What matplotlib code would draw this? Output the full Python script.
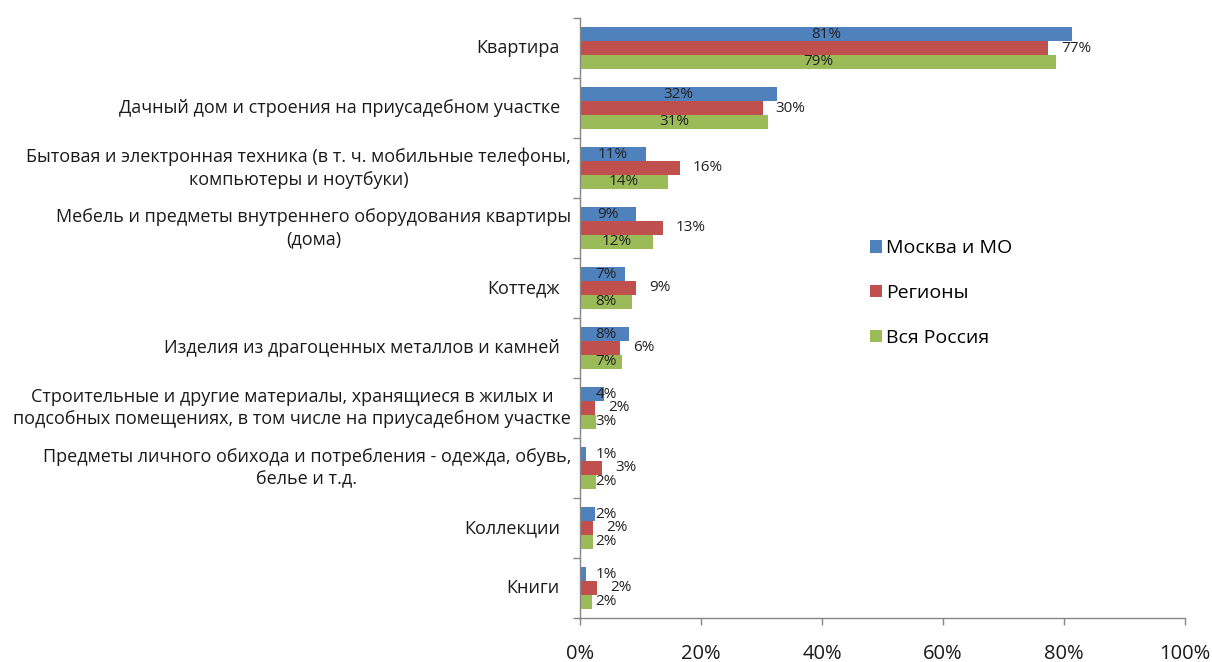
import matplotlib
matplotlib.use("Agg")
import matplotlib.pyplot as plt
from matplotlib.patches import Patch
import numpy as np

categories = [
    "Квартира",
    "Дачный дом и строения на приусадебном участке",
    "Бытовая и электронная техника (в т. ч. мобильные телефоны,\nкомпьютеры и ноутбуки)",
    "Мебель и предметы внутреннего оборудования квартиры\n(дома)",
    "Коттедж",
    "Изделия из драгоценных металлов и камней",
    "Строительные и другие материалы, хранящиеся в жилых и\nподсобных помещениях, в том числе на приусадебном участке",
    "Предметы личного обихода и потребления - одежда, обувь,\nбелье и т.д.",
    "Коллекции",
    "Книги",
]
series_names = ["Москва и МО", "Регионы", "Вся Россия"]
moscow = [81.3, 32.6, 10.9, 9.3, 7.4, 8.1, 4.0, 1.0, 2.5, 1.0]
regions = [77.4, 30.2, 16.5, 13.7, 9.3, 6.6, 2.5, 3.6, 2.1, 2.8]
russia = [78.7, 31.1, 14.5, 12.1, 8.6, 7.0, 2.6, 2.6, 2.1, 2.0]
label_moscow = ["81%", "32%", "11%", "9%", "7%", "8%", "4%", "1%", "2%", "1%"]
label_regions = ["77%", "30%", "16%", "13%", "9%", "6%", "2%", "3%", "2%", "2%"]
label_russia = ["79%", "31%", "14%", "12%", "8%", "7%", "3%", "2%", "2%", "2%"]
xticks = [0, 20, 40, 60, 80, 100]
xtick_labels = ["0%", "20%", "40%", "60%", "80%", "100%"]

colors = ["#4F81BD", "#C0504D", "#9BBB59"]
FONT = ["Open Sans", "DejaVu Sans"]
plt.rcParams["font.family"] = FONT

fig = plt.figure(figsize=(12.12, 6.62), dpi=100)
ax = fig.add_axes([0.4785, 0.0665, 0.4992, 0.9063])

y = np.arange(len(categories))
h = 0.23
data = [moscow, regions, russia]
labels = [label_moscow, label_regions, label_russia]
for k, (vals, col) in enumerate(zip(data, colors)):
    ax.barh(y + (k - 1) * h, vals, height=h, color=col, edgecolor="none", zorder=2)

# value labels
for i in range(len(categories)):
    # Moscow & Russia: centred in bar (with a minimum offset from axis)
    for k in (0, 2):
        v = data[k][i]
        ax.text(max(v / 2, 4.3), y[i] + (k - 1) * h, labels[k][i],
                ha="center", va="center", fontsize=11, color="#222222", zorder=3)
    v = data[1][i]
    ax.annotate(labels[1][i], xy=(v, y[i]), xytext=(9.5, 0), textcoords="offset points",
                ha="left", va="center", fontsize=11, color="#222222", zorder=3)

ax.set_xlim(0, 100)
ax.set_ylim(len(categories) - 0.5, -0.5)
ax.set_xticks(xticks)
ax.set_xticklabels(xtick_labels, fontsize=14.5, color="#1a1a1a")
ax.tick_params(axis="x", direction="out", length=5, width=1, color="#868686", pad=14)

ax.set_yticks(y)
ax.set_yticklabels([])
ax.tick_params(axis="y", which="major", length=0)
ax.set_yticks(np.arange(-0.5, len(categories) + 0.5, 1), minor=True)
ax.tick_params(axis="y", which="minor", direction="out", length=5, width=1, color="#868686")

for i, c in enumerate(categories):
    off = -6.5 if "\n" in c else -14.4
    ax.annotate(c, xy=(0, y[i]), xycoords=("axes fraction", "data"),
                xytext=(off, 0), textcoords="offset points",
                ha="right", va="center", multialignment="center",
                fontsize=13, color="#1a1a1a", linespacing=1.35)

for s in ("top", "right"):
    ax.spines[s].set_visible(False)
for s in ("left", "bottom"):
    ax.spines[s].set_color("#868686")
    ax.spines[s].set_linewidth(1)

handles = [Patch(facecolor=c, edgecolor="none") for c in colors]
fig.legend(handles, series_names, loc="center left", bbox_to_anchor=(0.7178, 0.5575),
           frameon=False, fontsize=14, handlelength=0.62, handleheight=0.62,
           handletextpad=0.2, labelspacing=1.38, borderpad=0, borderaxespad=0)

fig.savefig("out.png", dpi=100)
